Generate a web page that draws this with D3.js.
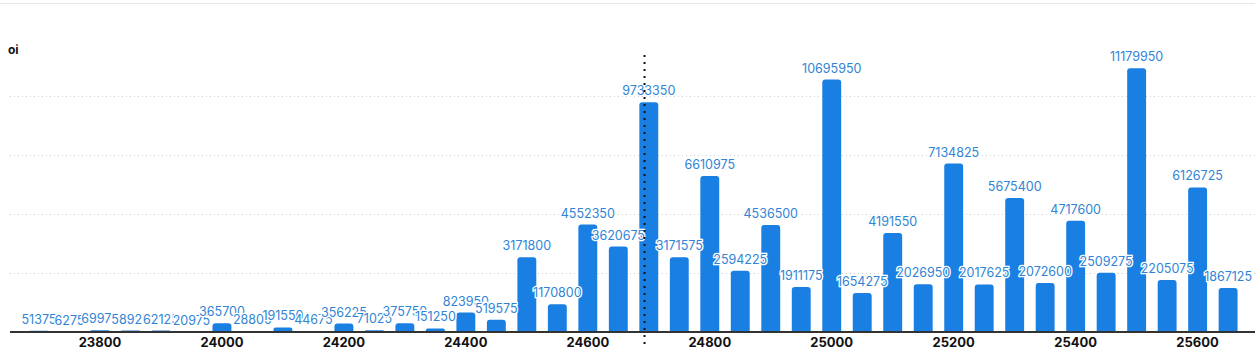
<!DOCTYPE html>
<html>
<head>
<meta charset="utf-8">
<script src="https://cdn.jsdelivr.net/npm/d3@7"></script>
<style>
  html, body { margin: 0; padding: 0; background: #fff; }
  svg { display: block; font-family: Inter, "Noto Sans", sans-serif; }
</style>
</head>
<body>
<svg id="chart" width="1255" height="351"></svg>
<script>
// --- data ---
const strikes = [23700, 23750, 23800, 23850, 23900, 23950, 24000, 24050, 24100, 24150,
                 24200, 24250, 24300, 24350, 24400, 24450, 24500, 24550, 24600, 24650,
                 24700, 24750, 24800, 24850, 24900, 24950, 25000, 25050, 25100, 25150,
                 25200, 25250, 25300, 25350, 25400, 25450, 25500, 25550, 25600, 25650];
const oi = [51375, 6275, 69975, 58925, 62125, 20975, 365700, 28800, 191550, 44675,
            356225, 71025, 375750, 151250, 823950, 519575, 3171800, 1170800, 4552350, 3620675,
            9733350, 3171575, 6610975, 2594225, 4536500, 1911175, 10695950, 1654275, 4191550, 2026950,
            7134825, 2017625, 5675400, 2072600, 4717600, 2509275, 11179950, 2205075, 6126725, 1867125];
const tickLabels = [23800, 24000, 24200, 24400, 24600, 24800, 25000, 25200, 25400, 25600];
const gridValues = [2500000, 5000000, 7500000, 10000000];
const spot = 24693;

// --- setup ---
const W = 1255, H = 351;
const svg = d3.select("#chart");

const x = d3.scaleBand()
    .domain(strikes)
    .range([23.75, 1243.35])
    .paddingInner(0.38)
    .paddingOuter(0.19);

const y = d3.scaleLinear()
    .domain([0, 12500000])
    .range([332, 37]);

// top border
svg.append("line")
    .attr("x1", 0).attr("x2", W)
    .attr("y1", 3.5).attr("y2", 3.5)
    .attr("stroke", "#e6e6e6");

// title
svg.append("text")
    .attr("x", 8).attr("y", 54)
    .attr("font-size", 12)
    .attr("font-weight", 700)
    .attr("fill", "#111")
    .text("oi");

// grid lines
svg.append("g")
    .selectAll("line")
    .data(gridValues)
    .join("line")
    .attr("x1", 10).attr("x2", W)
    .attr("y1", d => Math.round(y(d)) + 0.5)
    .attr("y2", d => Math.round(y(d)) + 0.5)
    .attr("stroke", "#cfcfcf")
    .attr("stroke-dasharray", "1 3");

// bars, rounded top
const r = 3;
const bw = x.bandwidth();
svg.append("g")
    .selectAll("path")
    .data(strikes.map((s, i) => ({ s, v: oi[i] })))
    .join("path")
    .attr("fill", "#1a7fe3")
    .attr("d", d => {
        const x0 = x(d.s), x1 = x0 + bw, y0 = y(0), y1 = y(d.v);
        const rr = Math.min(r, (y0 - y1) / 2);
        return `M${x0},${y0}V${y1 + rr}Q${x0},${y1} ${x0 + rr},${y1}` +
               `H${x1 - rr}Q${x1},${y1} ${x1},${y1 + rr}V${y0}Z`;
    });

// x axis
const xAxis = svg.append("g")
    .attr("transform", `translate(0,${y(0)})`);
xAxis.append("line")
    .attr("x1", 10).attr("x2", W)
    .attr("stroke", "#333")
    .attr("stroke-width", 2);
xAxis.selectAll("text")
    .data(tickLabels)
    .join("text")
    .attr("x", d => x(d) + bw / 2)
    .attr("y", 15)
    .attr("text-anchor", "middle")
    .attr("font-size", 13)
    .attr("font-weight", 700)
    .attr("fill", "#111")
    .text(d => d);

// value labels
svg.append("g")
    .selectAll("text")
    .data(strikes.map((s, i) => ({ s, v: oi[i] })))
    .join("text")
    .attr("x", d => x(d.s) + bw / 2)
    .attr("y", d => y(d.v) - 7)
    .attr("text-anchor", "middle")
    .attr("font-size", 12.5)
    .attr("fill", "#2f84d6")
    .attr("stroke", "#fff")
    .attr("stroke-width", 2.5)
    .attr("paint-order", "stroke")
    .text(d => d.v);

// spot marker
const step = x.step();
const sx = x(24700) + bw / 2 + (spot - 24700) / 50 * step;
svg.append("line")
    .attr("x1", sx).attr("x2", sx)
    .attr("y1", 55).attr("y2", 346)
    .attr("stroke", "#111")
    .attr("stroke-width", 2)
    .attr("stroke-dasharray", "2 5");
</script>
</body>
</html>
